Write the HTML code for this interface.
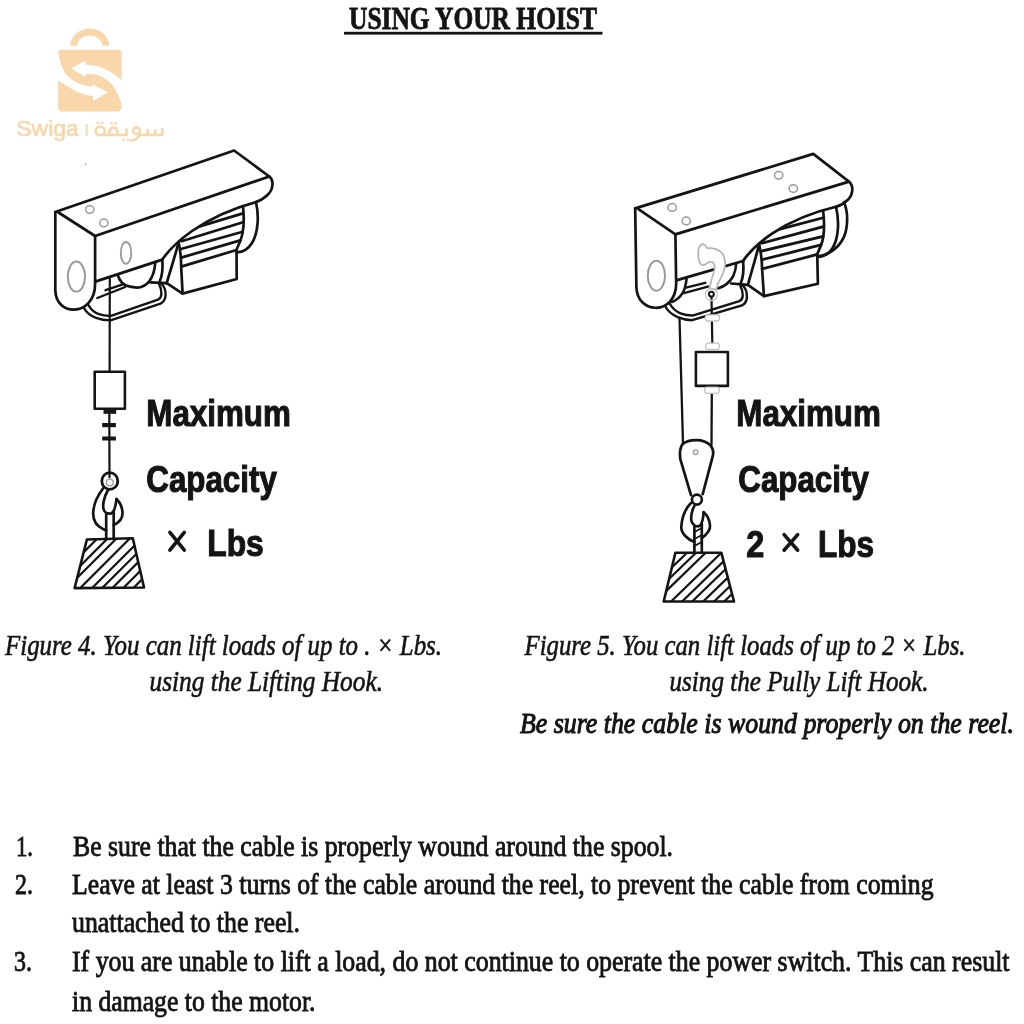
<!DOCTYPE html>
<html><head><meta charset="utf-8"><title>Using Your Hoist</title>
<style>
html,body{margin:0;padding:0;background:#fff;width:1024px;height:1024px;overflow:hidden}
body{position:relative;font-family:"Liberation Serif",serif}
svg text{white-space:pre}
svg{filter:grayscale(0)}
</style></head><body>
<svg width="1024" height="1024" viewBox="0 0 1024 1024" style="position:absolute;left:0;top:0"><defs>
<g id="body" fill="none" stroke="#141414" stroke-width="2.7" stroke-linecap="round" stroke-linejoin="round">
  <!-- beam -->
  <path d="M55.3,212 L234.1,150.5 L269.3,176.5 C274,180 273.5,189 268,194.5 C264,198.5 259,201 256,202"/>
  <path d="M58.5,212.5 L95.1,236 L269.3,176.5"/>
  <path d="M55.3,212 L55.3,290 C55.6,303 64,309.6 74,309.6 C85,309.6 95.5,300 95.1,283 L95.1,236"/>
  <path d="M95.3,281.6 L162.3,259.6"/>
  <!-- motor housing top curve -->
  <path d="M162.3,259.6 C168,251 178,241 192,231 C208,220 232,208.5 256,202"/>
  <!-- drum -->
  <path d="M162.3,259.8 C163,268 162,276 159.7,281.5"/>
  <path d="M150,282.4 L166.7,283.1"/>
  <!-- motor left contour -->
  <path d="M178.6,242.5 C175,256 170.5,270 166.7,283.1"/>
  <!-- box/fin left boundary -->
  <path d="M178.6,242.5 C180.3,250 181.2,258 181.2,267 L182.6,293.6"/>
  <path d="M166.7,283.1 L182.6,293.6 L236.7,279 L236.5,250"/>
  <!-- fins -->
  <path d="M199.7,226.4 L243,213.4"/>
  <path d="M181.5,241.2 L243,222.2"/>
  <path d="M181,249 L242.7,231.8"/>
  <path d="M181.2,257.6 L240.3,240.4"/>
  <path d="M181.2,266.6 L236.5,250"/>
  <path d="M243,206 C244.3,218 244,232 240.3,241 C238.8,244.5 237.2,247.5 236.5,250"/>
  <!-- end cap -->
  <path d="M256,202.2 C259,215 258.5,232 252,243 C248,249.5 243,252 237,252.4"/>
  <!-- U frame -->
  <path stroke-width="2.4" d="M84,308 C86,312 90,315.5 96,317.9 C100,319.4 105,320.4 110.5,320.4 L160.5,303.6 C163.5,302 165.5,299 165.6,295 C165.7,290 164,286 161.3,283.6"/>
  <path stroke-width="2.4" d="M88.6,305.3 C90.6,308.8 94,312.3 99,314.1 C103,315.5 107,316 111,315.8 L158,299.6 C160,298.6 161.3,297 161.4,294 C161.5,290 160.5,286.5 159.2,284.3"/>
</g>

<clipPath id="wL"><polygon points="86.9,539.5 132.8,538.3 144,587.5 74.6,588.1"/></clipPath>
<clipPath id="wR"><polygon points="675.4,552.7 721.3,552.7 734,601.5 663.7,601.5"/></clipPath>
</defs><g fill="#f9d7ab" stroke="none">
 <path d="M70.2,45.8 A19.5,17.2 0 0 1 109.2,45.8 L102.2,45.8 A12.5,10.2 0 0 0 77.2,45.8 Z"/>
 <path d="M61.5,49.8 L118.3,49.8 Q121.6,49.8 121.6,53.1 L121.6,106.6 Q121.6,111.6 116.6,111.6 L63.1,111.6 Q58.1,111.6 58.1,106.6 L58.1,53.2 Q58.1,49.8 61.5,49.8 Z"/>
</g>
<g fill="#fff" stroke="none">
 <path d="M71.1,68.6 L85.1,60.4 L85.8,64.8 C92,64.6 101,66.8 108,70.5 C113,73.2 118,77 123,81.5 L123,108 C120,99 117,92 113.5,86.5 C109,80.5 102,76 96,74.6 C93,73.9 89.5,73.7 86.4,73.7 L85.4,77.1 Z"/>
 <path d="M108,92.2 L92.3,84.3 L92.6,86.7 C84.4,86.2 75.5,83 68.7,77.1 C63.5,72 60,64 58.6,53.5 L56.5,52 L56.5,79.6 C60,81.5 63,83.8 66,85.6 C72,89.5 78,92.6 84,94.4 C87,95.3 90,95.8 92.9,95.9 L93.3,101 Z"/>
</g>
<g fill="none" stroke="#f9d7ab" stroke-width="2.6" stroke-linecap="round" stroke-linejoin="round">
 <path d="M104.6,135 L126.5,135 L126.5,129.5"/>
 <ellipse cx="100.2" cy="131" rx="4.6" ry="4.2"/>
 <path d="M109.3,135 C108.8,131 110,127.5 113.4,127.5 C116.8,127.5 118,131 117.5,135"/>
 <circle cx="136.5" cy="130.8" r="3.4"/>
 <path d="M139.9,131.5 C140.2,136 137.5,140 131,140.6"/>
 <path d="M139.9,135 L162.3,135 L162.3,129 M155.3,135 L155.3,130 M147.6,135 L147.6,130"/>
</g>
<g fill="#f9d7ab">
 <rect x="96.5" y="121.5" width="2.4" height="2.4"/><rect x="100.8" y="121.5" width="2.4" height="2.4"/>
 <rect x="110.6" y="122" width="2.4" height="2.4"/><rect x="114.6" y="122" width="2.4" height="2.4"/>
 <rect x="122.3" y="138.4" width="2.4" height="2.4"/><rect x="126.6" y="138.4" width="2.4" height="2.4"/>
</g><text x="16.3" y="136" font-family="Liberation Sans" font-size="22.5" fill="#f9d7ab" stroke="#f9d7ab" stroke-width="0.7" textLength="62.5" lengthAdjust="spacingAndGlyphs">Swiga</text><rect x="85.6" y="124.2" width="2.1" height="11.4" fill="#f9d7ab"/><circle cx="85.6" cy="164.2" r="0.8" fill="#888"/><text x="349" y="29" font-family="Liberation Serif" font-weight="bold" font-size="30.5" fill="#141414" stroke="#141414" stroke-width="0.8" textLength="248" lengthAdjust="spacingAndGlyphs">USING YOUR HOIST</text><rect x="344" y="31.8" width="258.5" height="2.8" fill="#141414"/><use href="#body"/><use href="#body" transform="matrix(1.0015,0.0422,0.0154,1.0097,576.54,-7.97)"/><g fill="none" stroke="#9a9a9a" stroke-width="1.5">
 <ellipse cx="89.8" cy="209.5" rx="4.2" ry="3.8"/>
 <ellipse cx="103.9" cy="222.9" rx="4.2" ry="3.8"/>
 <ellipse cx="76.4" cy="276.6" rx="8.6" ry="15" stroke-width="2"/>
 <ellipse cx="126" cy="252.9" rx="5.2" ry="10.9" stroke-width="1.8"/>
 <ellipse cx="672.2" cy="207.4" rx="4.2" ry="3.8"/>
 <ellipse cx="686.3" cy="220.9" rx="4.2" ry="3.8"/>
 <ellipse cx="778.7" cy="175.2" rx="4.2" ry="3.8"/>
 <ellipse cx="793.3" cy="188.6" rx="4.2" ry="3.8"/>
 <ellipse cx="656.4" cy="275.7" rx="8.6" ry="15" stroke-width="2"/>
</g><g fill="none" stroke="#141414" stroke-width="2.7" stroke-linecap="round" stroke-linejoin="round">
 <path stroke-width="2.2" d="M109.8,279 L109.6,371.7"/>
 <path d="M118.1,276 C119.5,280 122,283.5 125.7,285.3 C128,286.5 131,287.2 136.9,287.6 C146,287.6 154,280 155.3,262.5"/>
 <path stroke-width="2.4" d="M97.3,298 L125.2,287 M105.5,290.2 L123.6,284.2"/>
 <rect x="94.7" y="371.7" width="30.2" height="37.1" stroke-width="2.6"/>
 <path stroke-width="2.2" d="M109.3,413 L109.5,477.3"/>
 <ellipse cx="109.8" cy="481" rx="8" ry="8.3" stroke-width="2.8"/>
 <path d="M103,488.5 C98,495 93.5,504 93.2,513 C93,520 97,526 103,529 L106.2,530.5"/>
 <path d="M107.9,490.3 C104,497 102.5,505 103.5,509 C104.5,513 108,514 111,513.4 C114,512.5 115.5,508 116.5,499"/>
 <path d="M116.5,499 C119.5,502 122.5,508 122.5,513.5 C122.5,519 118,523 113.7,525"/>
 <path d="M106.2,513.4 L106.2,538.6 M113.7,511.5 L113.7,538.4"/>
 <polygon points="86.9,539.5 132.8,538.3 144,587.5 74.6,588.1" stroke-width="2.6"/>
 <g clip-path="url(#wL)" stroke-width="2.2"><line x1="-11.5" y1="647.4" x2="128.5" y2="507.4"/><line x1="-1.3" y1="647.4" x2="138.7" y2="507.4"/><line x1="7.6" y1="647.4" x2="147.6" y2="507.4"/><line x1="20.9" y1="647.4" x2="160.9" y2="507.4"/><line x1="32.7" y1="647.4" x2="172.7" y2="507.4"/><line x1="42.8" y1="647.4" x2="182.8" y2="507.4"/><line x1="53.0" y1="647.4" x2="193.0" y2="507.4"/><line x1="63.9" y1="647.4" x2="203.9" y2="507.4"/><line x1="74.0" y1="647.4" x2="214.0" y2="507.4"/></g>
</g>
<g fill="#141414">
 <rect x="103.5" y="408.8" width="12.7" height="5"/>
 <rect x="102.2" y="423" width="13.7" height="4.2"/>
 <rect x="102.2" y="436.5" width="13.7" height="4"/>
</g>
<circle cx="109.8" cy="482.5" r="3.4" fill="none" stroke="#9a9a9a" stroke-width="1.3"/>
<g fill="none" stroke="#141414" stroke-width="2.6" stroke-linecap="round" stroke-linejoin="round">
 <path d="M718.3,288.3 C724,286.5 730,282 733.3,276 C735,272 736,268 736.2,263.5"/>
 <path d="M686.6,278.7 C686,284 684.5,290 682.8,292.6 C680.5,296.5 676,300.5 671.8,301.9"/>
 <path stroke-width="2.4" d="M683.9,293.1 L707.9,286.6 M686.1,287.7 L705.2,282.8"/>
</g>
<path d="M702.6,243.9 C704.5,244.6 706.4,246.2 707.3,248.3 C712,247.5 719,249 722.4,253.5 C725.5,258 725.6,264 724.4,269.2 C722.5,276 719,281 717.6,284.2 L716.2,289.7 L709.4,288.3 L710.8,282.8 C711.5,279 713,275 714.2,271.2 C715,268 715,264 712.8,262.3 C710.5,261.5 708,262 706,264 C704,265.6 702,265.5 700.5,263.7 C698.5,260.5 697.8,256 698.3,251 C698.5,248 700,245 702.6,243.9 Z" fill="#fff" stroke="#b4b4b4" stroke-width="1.7"/>
<g fill="none" stroke="#141414" stroke-width="2.7" stroke-linecap="round" stroke-linejoin="round">
 <path stroke-width="2.3" d="M679.5,318 L683,444"/>
 <path stroke-width="2.2" d="M711.5,297 L712.3,343.2"/>
 <rect x="695.9" y="352" width="32" height="33.9" stroke-width="2.6"/>
 <path stroke-width="2.3" d="M711.8,393.3 L711.5,445"/>
 <path d="M682.7,443.9 C688,439.5 703,437.5 710.5,445.4 C713.2,449 713.6,454 712.5,457.1 L702.7,494.2 M691,495.2 L680.3,459.1 C679.5,453 680,447.5 682.7,443.9"/>
 <circle cx="696.9" cy="499.6" r="5" stroke-width="2.6"/>
 <path d="M691,503 C686,508 682,516 681.3,527 C681,533 688,540 694.4,542"/>
 <path d="M694.4,505.9 C692,510 690.5,517 691.5,521 C692.5,525 696,526.5 698,526.4 C701,526 702.5,522 703.2,516.6 L703.7,512.2"/>
 <path d="M703.7,512.2 C706.5,514.5 709.5,520 710,525.4 C710.5,530 706,535 701.8,538.1"/>
 <path d="M694.4,526.4 L694.4,552.7 M701.8,524 L701.8,552.7"/>
 <path d="M694.4,532 L701.8,528 M694.4,539 L701.8,535 M694.4,546 L701.8,542" stroke-width="1.8"/>
 <polygon points="675.4,552.7 721.3,552.7 734,601.5 663.7,601.5" stroke-width="2.6"/>
 <g clip-path="url(#wR)" stroke-width="2.2"><line x1="577.4" y1="659.1" x2="717.4" y2="523.3"/><line x1="586.4" y1="659.1" x2="726.4" y2="523.3"/><line x1="596.0" y1="659.1" x2="736.0" y2="523.3"/><line x1="611.7" y1="659.1" x2="751.7" y2="523.3"/><line x1="622.7" y1="659.1" x2="762.7" y2="523.3"/><line x1="632.8" y1="659.1" x2="772.8" y2="523.3"/><line x1="643.8" y1="659.1" x2="783.8" y2="523.3"/><line x1="654.7" y1="659.1" x2="794.7" y2="523.3"/><line x1="664.8" y1="659.1" x2="804.8" y2="523.3"/></g>
 <circle cx="711.4" cy="294.2" r="2.4" stroke-width="2"/>
 <path d="M844,202.2 C847.3,210 847.6,221 846.3,229 C845.2,235.5 842.5,241 838,246 C833,251 826,255.5 818,256.4"/>
</g>
<g fill="none" stroke="#c4c4c4" stroke-width="1.3">
 <rect x="705.4" y="314.8" width="14" height="6.2" rx="2.5" fill="#fff"/>
 <rect x="705.7" y="343.2" width="13.8" height="6.3" rx="2.5" fill="#fff"/>
 <rect x="704.7" y="387.1" width="14.6" height="6.2" rx="2.5" fill="#fff"/>
 <circle cx="711.4" cy="294.5" r="6"/>
 <circle cx="695.7" cy="452.2" r="2.3" stroke="#9a9a9a"/>
</g>
<text x="146.3" y="426" font-family="Liberation Sans" font-weight="bold" font-size="37" fill="#141414" stroke="#141414" stroke-width="1.1" textLength="144.5" lengthAdjust="spacingAndGlyphs" >Maximum</text><text x="146.3" y="491.5" font-family="Liberation Sans" font-weight="bold" font-size="37" fill="#141414" stroke="#141414" stroke-width="1.1" textLength="130.5" lengthAdjust="spacingAndGlyphs" >Capacity</text><text x="207.3" y="555.5" font-family="Liberation Sans" font-weight="bold" font-size="37" fill="#141414" stroke="#141414" stroke-width="1.1" textLength="56.5" lengthAdjust="spacingAndGlyphs" >Lbs</text><text x="736.3" y="426.3" font-family="Liberation Sans" font-weight="bold" font-size="37" fill="#141414" stroke="#141414" stroke-width="1.1" textLength="144.5" lengthAdjust="spacingAndGlyphs" >Maximum</text><text x="738.3" y="492" font-family="Liberation Sans" font-weight="bold" font-size="37" fill="#141414" stroke="#141414" stroke-width="1.1" textLength="130.5" lengthAdjust="spacingAndGlyphs" >Capacity</text><text x="746.3" y="556.6" font-family="Liberation Sans" font-weight="bold" font-size="37" fill="#141414" stroke="#141414" stroke-width="1.1" textLength="18" lengthAdjust="spacingAndGlyphs" >2</text><text x="818" y="557" font-family="Liberation Sans" font-weight="bold" font-size="37" fill="#141414" stroke="#141414" stroke-width="1.1" textLength="56" lengthAdjust="spacingAndGlyphs" >Lbs</text><path d="M169.9,532.4 L184.3,550.2 M184.3,532.4 L169.9,550.2" stroke="#141414" stroke-width="3.6" stroke-linecap="round" fill="none"/><path d="M784.1,534.6 L797.7,550.2 M797.7,534.6 L784.1,550.2" stroke="#141414" stroke-width="3.6" stroke-linecap="round" fill="none"/><text x="5" y="655.3" font-family="Liberation Serif" font-style="italic" font-weight="normal" font-size="29" fill="#141414" stroke="#141414" stroke-width="0.6" textLength="437" lengthAdjust="spacingAndGlyphs" xml:space="preserve">Figure 4. You can lift loads of up to . × Lbs.</text><text x="149.5" y="690.5" font-family="Liberation Serif" font-style="italic" font-weight="normal" font-size="29" fill="#141414" stroke="#141414" stroke-width="0.6" textLength="233.5" lengthAdjust="spacingAndGlyphs" xml:space="preserve">using the Lifting Hook.</text><text x="524.5" y="655" font-family="Liberation Serif" font-style="italic" font-weight="normal" font-size="29" fill="#141414" stroke="#141414" stroke-width="0.6" textLength="441" lengthAdjust="spacingAndGlyphs" xml:space="preserve">Figure 5. You can lift loads of up to 2 × Lbs.</text><text x="669.5" y="690.5" font-family="Liberation Serif" font-style="italic" font-weight="normal" font-size="29" fill="#141414" stroke="#141414" stroke-width="0.6" textLength="259" lengthAdjust="spacingAndGlyphs" xml:space="preserve">using the Pully Lift Hook.</text><text x="520" y="733" font-family="Liberation Serif" font-style="italic" font-weight="normal" font-size="29" fill="#141414" stroke="#141414" stroke-width="1.05" textLength="494" lengthAdjust="spacingAndGlyphs" xml:space="preserve">Be sure the cable is wound properly on the reel.</text><text x="16" y="856" font-family="Liberation Serif" font-size="29" fill="#141414" stroke="#141414" stroke-width="0.85" textLength="17" lengthAdjust="spacingAndGlyphs">1.</text><text x="73" y="856" font-family="Liberation Serif" font-size="29" fill="#141414" stroke="#141414" stroke-width="0.85" textLength="600" lengthAdjust="spacingAndGlyphs">Be sure that the cable is properly wound around the spool.</text><text x="15" y="894" font-family="Liberation Serif" font-size="29" fill="#141414" stroke="#141414" stroke-width="0.85" textLength="18" lengthAdjust="spacingAndGlyphs">2.</text><text x="72" y="894" font-family="Liberation Serif" font-size="29" fill="#141414" stroke="#141414" stroke-width="0.85" textLength="861.5" lengthAdjust="spacingAndGlyphs">Leave at least 3 turns of the cable around the reel, to prevent the cable from coming</text><text x="72" y="931.7" font-family="Liberation Serif" font-size="29" fill="#141414" stroke="#141414" stroke-width="0.85" textLength="228" lengthAdjust="spacingAndGlyphs">unattached to the reel.</text><text x="14" y="971" font-family="Liberation Serif" font-size="29" fill="#141414" stroke="#141414" stroke-width="0.85" textLength="18" lengthAdjust="spacingAndGlyphs">3.</text><text x="72" y="971" font-family="Liberation Serif" font-size="29" fill="#141414" stroke="#141414" stroke-width="0.85" textLength="937.5" lengthAdjust="spacingAndGlyphs">If you are unable to lift a load, do not continue to operate the power switch. This can result</text><text x="72" y="1010.8" font-family="Liberation Serif" font-size="29" fill="#141414" stroke="#141414" stroke-width="0.85" textLength="243.5" lengthAdjust="spacingAndGlyphs">in damage to the motor.</text></svg>
</body></html>
